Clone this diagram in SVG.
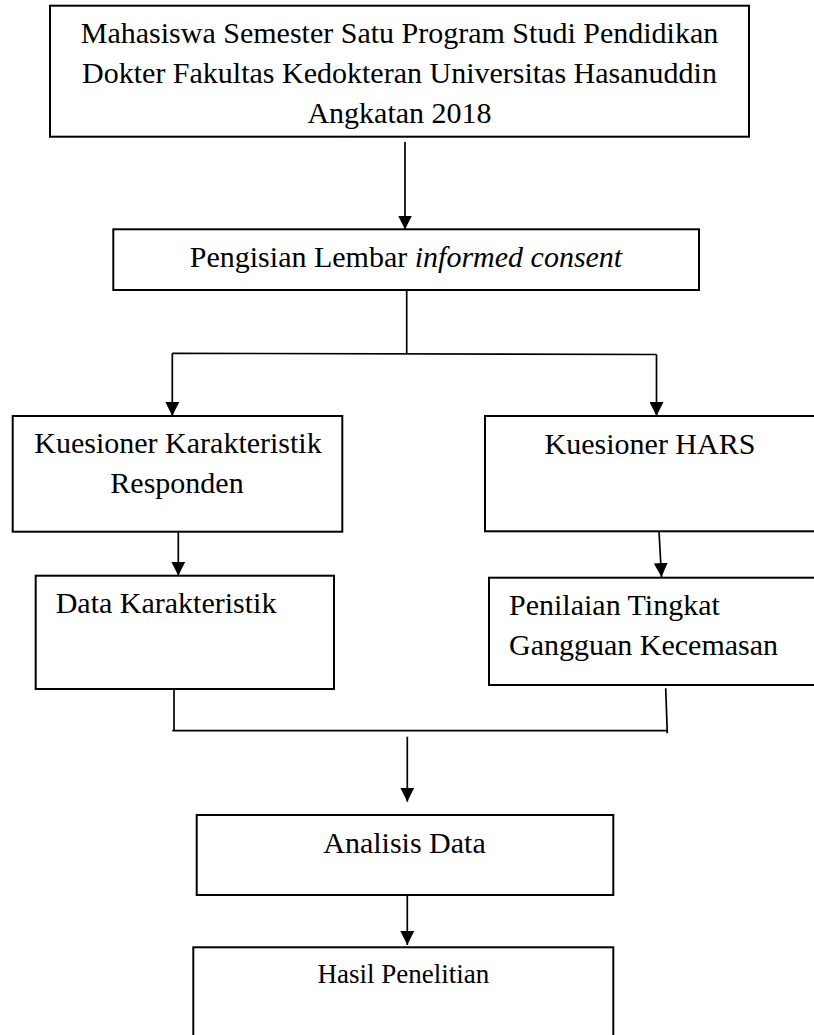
<svg xmlns="http://www.w3.org/2000/svg" width="814" height="1035" viewBox="0 0 814 1035">
<defs>
<style>
.box{fill:#fff;stroke:#000;stroke-width:2}
.ln{fill:none;stroke:#000;stroke-width:1.7}
.t{font-family:"Liberation Serif","Times New Roman",serif;font-size:30px;fill:#000}
.c{text-anchor:middle}
</style>
<marker id="ah" markerUnits="userSpaceOnUse" markerWidth="14" markerHeight="14" refX="14" refY="7" orient="auto" viewBox="0 0 14 14">
<path d="M0,0 L14,7 L0,14 Z" fill="#000"/>
</marker>
</defs>
<rect width="814" height="1035" fill="#fff"/>
<g id="connectors">
<line class="ln" x1="405" y1="142" x2="405" y2="229.5" marker-end="url(#ah)"/>
<line class="ln" x1="406.7" y1="290" x2="406.7" y2="354"/>
<line class="ln" x1="172.3" y1="353.3" x2="656.5" y2="354.5"/>
<line class="ln" x1="172.3" y1="353.3" x2="172.3" y2="416" marker-end="url(#ah)"/>
<line class="ln" x1="656.5" y1="354.5" x2="656.5" y2="416" marker-end="url(#ah)"/>
<line class="ln" x1="178.3" y1="531.7" x2="178.3" y2="575.7" marker-end="url(#ah)"/>
<line class="ln" x1="659" y1="531.3" x2="661.5" y2="577" marker-end="url(#ah)"/>
<line class="ln" x1="174" y1="685" x2="174" y2="730.7"/>
<line class="ln" x1="665.7" y1="688.3" x2="667.3" y2="733.3"/>
<line class="ln" x1="172.3" y1="730.7" x2="667" y2="730.7"/>
<line class="ln" x1="407.3" y1="736.7" x2="407.3" y2="801.7" marker-end="url(#ah)"/>
<line class="ln" x1="407.3" y1="895" x2="407.3" y2="945" marker-end="url(#ah)"/>
</g>
<g id="n1">
<rect class="box" x="50" y="5.7" width="699" height="131"/>
<text class="t c" x="399.5" y="43.3">Mahasiswa Semester Satu Program Studi Pendidikan</text>
<text class="t c" x="399.5" y="83">Dokter Fakultas Kedokteran Universitas Hasanuddin</text>
<text class="t c" x="399.5" y="123">Angkatan 2018</text>
</g>
<g id="n2">
<rect class="box" x="113.3" y="229.3" width="585.7" height="60.7"/>
<text class="t c" x="406" y="266.7">Pengisian Lembar <tspan font-style="italic">informed consent</tspan></text>
</g>
<g id="n3">
<rect class="box" x="12.7" y="416" width="329.6" height="115.7"/>
<text class="t c" x="178" y="452.7">Kuesioner Karakteristik</text>
<text class="t c" x="177" y="492.7">Responden</text>
</g>
<g id="n4">
<rect class="box" x="485" y="416" width="345" height="115.3"/>
<text class="t c" x="650" y="454">Kuesioner HARS</text>
</g>
<g id="n5">
<rect class="box" x="35.7" y="575.7" width="298.3" height="113.3"/>
<text class="t" x="55.7" y="613.3">Data Karakteristik</text>
</g>
<g id="n6">
<rect class="box" x="489" y="577.7" width="341" height="107.3"/>
<text class="t" x="509" y="615">Penilaian Tingkat</text>
<text class="t" x="509" y="655">Gangguan Kecemasan</text>
</g>
<g id="n7">
<rect class="box" x="196.7" y="815" width="416.6" height="80"/>
<text class="t c" x="404.5" y="853.3">Analisis Data</text>
</g>
<g id="n8">
<rect class="box" x="193.3" y="947.3" width="420" height="110"/>
<text class="t c" x="403.3" y="983.3" style="font-size:27px">Hasil Penelitian</text>
</g>
</svg>
